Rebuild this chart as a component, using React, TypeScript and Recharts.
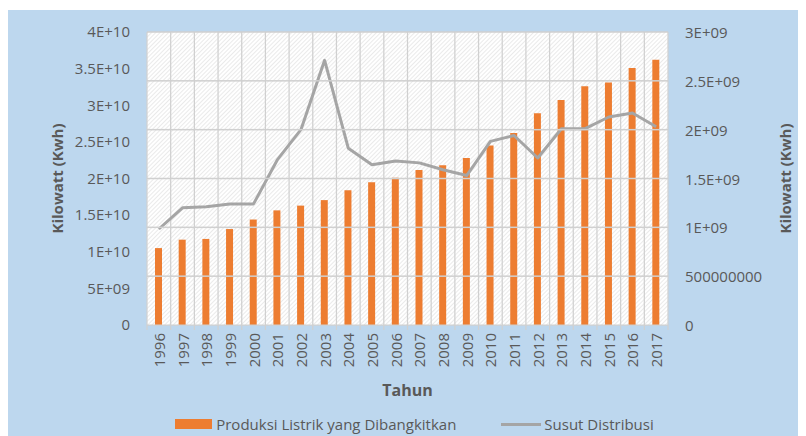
import React from 'react';
import { ComposedChart, Bar, Line, XAxis, YAxis, CartesianGrid, Legend, ReferenceLine } from 'recharts';

const years = ['1996','1997','1998','1999','2000','2001','2002','2003','2004','2005','2006','2007','2008','2009','2010','2011','2012','2013','2014','2015','2016','2017'];
const produksi = [10.5e9, 11.65e9, 11.75e9, 13.1e9, 14.4e9, 15.65e9, 16.3e9, 17.05e9, 18.4e9, 19.5e9, 20.1e9, 21.15e9, 21.8e9, 22.8e9, 24.5e9, 26.2e9, 28.9e9, 30.7e9, 32.6e9, 33.1e9, 35.1e9, 36.2e9];
const susut = [0.983e9, 1.2e9, 1.21e9, 1.24e9, 1.24e9, 1.69e9, 2.0e9, 2.71e9, 1.81e9, 1.64e9, 1.68e9, 1.66e9, 1.59e9, 1.53e9, 1.88e9, 1.94e9, 1.71e9, 2.01e9, 2.01e9, 2.13e9, 2.17e9, 2.03e9];

const leftMax = 40e9;
const rightMax = 3e9;
const leftTicks = [0, 5e9, 10e9, 15e9, 20e9, 25e9, 30e9, 35e9, 40e9];
const leftTickLabels = ['0', '5E+09', '1E+10', '1.5E+10', '2E+10', '2.5E+10', '3E+10', '3.5E+10', '4E+10'];
const rightTicks = [0, 5e8, 10e8, 15e8, 20e8, 25e8, 30e8];
const rightTickLabels = ['0', '500000000', '1E+09', '1.5E+09', '2E+09', '2.5E+09', '3E+09'];

const seriesNames = ['Produksi Listrik yang Dibangkitkan', 'Susut Distribusi'];
const axisTitle = 'Kilowatt (Kwh)';
const xTitle = 'Tahun';

const data = years.map((y, i) => ({ year: y, produksi: produksi[i], susut: susut[i] }));

const CHART_W = 798;
const CHART_H = 426;
const LEFT_W = 139;
const RIGHT_W = 138;
const PLOT_W = CHART_W - LEFT_W - RIGHT_W;
const TICK_GAP = 17;

const FONT = '"Open Sans", sans-serif';
const FS = 15;
const TEXT = '#595959';
const ORANGE = '#ED7D31';
const GRAY = '#A5A5A5';
const GRID = '#D0D0D0';
const BG = '#BDD7EE';

const YearTick = (props: any) => {
  const { x, y, payload } = props;
  return (
    <text x={x} y={y} transform={`rotate(-90, ${x}, ${y})`} textAnchor="end" dominantBaseline="central"
      fontFamily={FONT} fontSize={FS} fill={TEXT}>{payload.value}</text>
  );
};

// right-axis tick: label plus the horizontal gridline across the plot at the same tick position
const RightTick = (props: any) => {
  const { x, y, payload } = props;
  const label = rightTickLabels[rightTicks.indexOf(payload.value)];
  const plotRight = x - TICK_GAP;
  return (
    <g>
      {payload.value > 0 && (
        <rect x={plotRight - PLOT_W} y={y - 0.75} width={PLOT_W} height={1.5} fill={GRID} />
      )}
      <text x={x} y={y} textAnchor="start" dominantBaseline="central" fontFamily={FONT} fontSize={FS} fill={TEXT}>{label}</text>
    </g>
  );
};

const LegendContent = () => (
  <div style={{ display: 'flex', justifyContent: 'center', alignItems: 'center', height: 24, paddingLeft: 15, fontFamily: FONT, fontSize: FS, color: TEXT }}>
    <span style={{ display: 'inline-block', width: 37, height: 10, background: ORANGE, marginRight: 4 }} />
    <span style={{ marginRight: 45 }}>{seriesNames[0]}</span>
    <span style={{ display: 'inline-block', width: 40, height: 3, background: GRAY, marginRight: 3 }} />
    <span>{seriesNames[1]}</span>
  </div>
);

// vertical boundary gridline that also draws the small tick mark below the axis
const BoundaryLine = (props: any) => {
  const { x1, y1, x2, y2 } = props;
  const top = Math.min(y1, y2);
  const bottom = Math.max(y1, y2);
  return <line x1={x1} x2={x2} y1={top} y2={bottom + 5} stroke={GRID} strokeWidth={1.25} />;
};

export default function App() {
  return (
    <div style={{ marginTop: 2 }}>
      <svg width={1} height={1} style={{ position: 'absolute', left: 0, top: 0 }}>
        <defs>
          <pattern id="hatch" width={3} height={3} patternUnits="userSpaceOnUse" patternTransform="rotate(45)">
            <rect width={3} height={3} fill="#FFFFFF" />
            <line x1={0.5} y1={0} x2={0.5} y2={3} stroke="#EAEAEA" strokeWidth={1} />
          </pattern>
        </defs>
      </svg>
      <div style={{ width: CHART_W, height: CHART_H, background: BG, position: 'relative' }}>
        <ComposedChart width={CHART_W} height={CHART_H} data={data} margin={{ top: 22, right: 0, bottom: 0, left: 0 }}>
          <CartesianGrid xAxisId="cat" yAxisId="right" fill="url(#hatch)" vertical={false} horizontal={false} />
          <YAxis yAxisId="right" orientation="right" width={RIGHT_W} domain={[0, rightMax]} ticks={rightTicks}
            interval={0} tickLine={false} axisLine={false} tickSize={0} tickMargin={TICK_GAP}
            tick={<RightTick />}
            label={{ content: (p: any) => {
              const cx = p.viewBox.x + 117; const cy = p.viewBox.y + p.viewBox.height / 2;
              return <text x={cx} y={cy} transform={`rotate(-90, ${cx}, ${cy})`} textAnchor="middle" dominantBaseline="central"
                fontFamily={FONT} fontSize={FS} fontWeight="bold" fill={TEXT}>{axisTitle}</text>;
            } }} />
          <XAxis xAxisId="cat" dataKey="year" height={87} tickLine={false} axisLine={{ stroke: GRID, strokeWidth: 1.25 }}
            tickSize={0} tickMargin={8} interval={0} tick={<YearTick />}
            label={{ content: (p: any) => (
              <text x={p.viewBox.x + p.viewBox.width / 2} y={p.viewBox.y + 65} textAnchor="middle" dominantBaseline="central"
                fontFamily={FONT} fontSize={16} fontWeight="bold" fill={TEXT}>{xTitle}</text>
            ) }} />
          <YAxis yAxisId="left" orientation="left" width={LEFT_W} domain={[0, leftMax]} ticks={leftTicks}
            tickFormatter={(v: number) => leftTickLabels[leftTicks.indexOf(v)]}
            tickLine={false} axisLine={false} tickSize={0} tickMargin={TICK_GAP}
            tick={{ fontFamily: FONT, fontSize: FS, fill: TEXT }}
            label={{ content: (p: any) => {
              const cx = p.viewBox.x + 49; const cy = p.viewBox.y + p.viewBox.height / 2;
              return <text x={cx} y={cy} transform={`rotate(-90, ${cx}, ${cy})`} textAnchor="middle" dominantBaseline="central"
                fontFamily={FONT} fontSize={FS} fontWeight="bold" fill={TEXT}>{axisTitle}</text>;
            } }} />
          {years.map((yr) => (
            <ReferenceLine key={`v${yr}`} xAxisId="cat" yAxisId="right" x={yr} position="start" shape={<BoundaryLine />} />
          ))}
          <ReferenceLine xAxisId="cat" yAxisId="right" x={years[years.length - 1]} position="end" shape={<BoundaryLine />} />
          <Bar xAxisId="cat" yAxisId="left" dataKey="produksi" name={seriesNames[0]} fill={ORANGE} barSize={7} isAnimationActive={false} />
          <Line xAxisId="cat" yAxisId="right" dataKey="susut" name={seriesNames[1]} stroke={GRAY} strokeWidth={3} dot={false}
            strokeLinejoin="round" isAnimationActive={false} />
          <Legend verticalAlign="bottom" height={24} content={<LegendContent />} />
        </ComposedChart>
      </div>
    </div>
  );
}
